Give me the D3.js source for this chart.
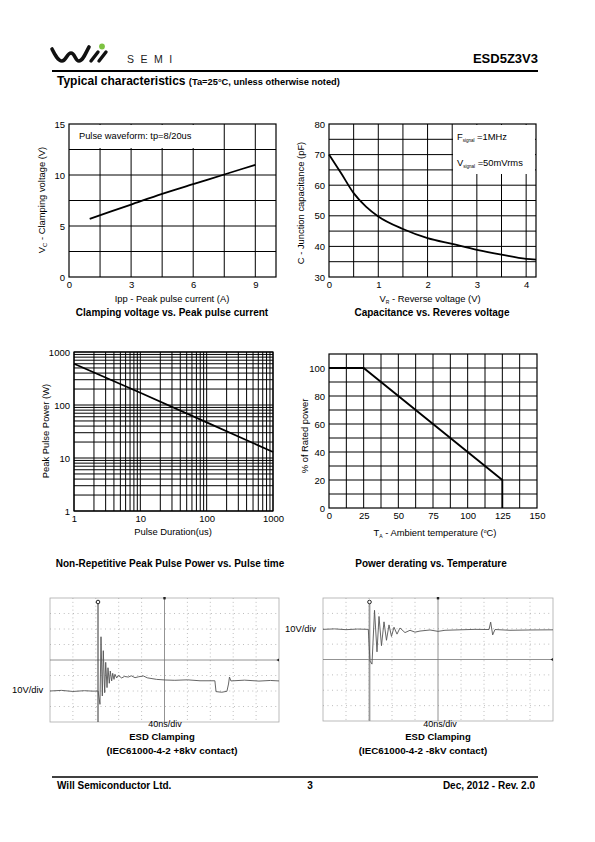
<!DOCTYPE html>
<html><head><meta charset="utf-8">
<script src="https://cdn.jsdelivr.net/npm/d3@7"></script>
<style>body{margin:0;background:#fff}svg{display:block}text{font-family:"Liberation Sans",Arial,sans-serif}</style>
</head><body>
<svg id="page" width="595" height="842"></svg>
<script>
// ---------- DATA ----------
const clampIpp = [1, 3, 4.5, 6, 7.5, 9];
const clampVc = [5.7, 7.1, 8.15, 9.1, 10.05, 11.0];
const clampXTicks = [0, 3, 6, 9];
const clampYTicks = [0, 5, 10, 15];

const capVr = [0, 0.25, 0.5, 0.75, 1, 1.5, 2, 2.5, 3, 3.5, 4, 4.2];
const capC = [70, 63.8, 57.4, 53, 49.8, 45.7, 42.7, 40.8, 38.9, 37.3, 35.9, 35.7];
const capXTicks = [0, 1, 2, 3, 4];
const capYTicks = [30, 40, 50, 60, 70, 80];

const pulseUs = [1, 10, 100, 1000];
const pulseW = [600, 170, 47, 13];
const pulseTicks = [1, 10, 100, 1000];

const derTemp = [0, 25, 125, 125];
const derPct = [100, 100, 20, 0];
const derXTicks = [0, 25, 50, 75, 100, 125, 150];
const derYTicks = [0, 20, 40, 60, 80, 100];

// scope traces: time (ns from left edge, 40ns/div) and voltage (V from centre, 10V/div)
const scope1T = [0, 20, 40, 60, 75, 84, 87.3, 89.1, 91.4, 93.1, 95.5, 97.3, 99.6, 101.3, 103.6, 105.3, 107.7, 109.5, 111.8, 113.5, 116.5, 119.3, 125.2, 130, 136.8, 142, 148.5, 155, 163, 170, 174.7, 186.3, 201, 218, 240, 262, 288, 290, 300, 309, 311.8, 313.5, 316, 340, 365, 385, 400];
const scope1V = [-20, -19.6, -20.3, -19.8, -20.1, -20, -28.6, 15, -23.2, 6, -21.1, -1.5, -17.8, -5.0, -15.0, -7.1, -13.5, -8.6, -12.5, -9.2, -11.6, -9.9, -11.6, -10.6, -11.0, -10.2, -11.4, -10.8, -10.3, -11.5, -11.8, -12.5, -12.9, -13.1, -12.8, -13.4, -13.4, -20.4, -20.8, -20.2, -15.5, -11, -13.5, -13.0, -13.6, -13.2, -13.5];
const scope2T = [0, 20, 40, 60, 78.8, 81.7, 85.2, 89.6, 93.9, 97.4, 101.7, 106.1, 110.4, 114.8, 119.1, 123.5, 128.7, 133.9, 142.6, 151.3, 160, 168.7, 186.1, 200, 212.2, 238.2, 264.3, 288.7, 291.6, 295.1, 299.1, 325.2, 360, 400];
const scope2V = [19.6, 19.9, 19.4, 19.8, 19.6, -1, -3, 32, 5, 28, 9, 24.5, 12.5, 22.5, 15, 21, 16.5, 20.5, 17.5, 19, 17.8, 18.5, 19.2, 18.3, 19, 19.3, 19.6, 19.5, 24.3, 16, 19.5, 19, 19.2, 19.3];

// ---------- DRAW ----------
const svg = d3.select("#page");
const F = '"Liberation Sans",Arial,sans-serif';

function txt(x, y, s, opt = {}) {
  return svg.append("text").attr("x", x).attr("y", y).text(s)
    .attr("font-size", opt.size || 9).attr("font-weight", opt.bold ? "bold" : null)
    .attr("text-anchor", opt.anchor || "start").attr("fill", "#000");
}

// header
const logo = svg.append("g");
logo.append("path").attr("d", "M52,49 C55,55 58,61 62,61 C66,61 67,53 71,53 C75,53 75,61 79,61 C83,61 86,52 89,47")
  .attr("fill", "none").attr("stroke", "#111").attr("stroke-width", 3.6).attr("stroke-linecap", "round");
logo.append("path").attr("d", "M91,61 L98,52 M99,61 L106,52").attr("stroke", "#111").attr("stroke-width", 3.4).attr("stroke-linecap", "round");
logo.append("circle").attr("cx", 102).attr("cy", 46.5).attr("r", 2.9).attr("fill", "#7dc242");
txt(127, 63, "SEMI", { size: 10.5 }).attr("letter-spacing", 6.5).attr("font-family", "DejaVu Sans").attr("fill", "#222");
txt(538, 63, "ESD5Z3V3", { size: 13, bold: true, anchor: "end" });
svg.append("line").attr("x1", 52).attr("x2", 538).attr("y1", 71).attr("y2", 71).attr("stroke", "#000").attr("stroke-width", 2);
const sub = txt(57, 85, "Typical characteristics ", { size: 12, bold: true });
sub.append("tspan").attr("font-size", 9.3).text("(Ta=25°C, unless otherwise noted)");

// footer
svg.append("line").attr("x1", 52).attr("x2", 538).attr("y1", 777).attr("y2", 777).attr("stroke", "#000").attr("stroke-width", 1.5);
txt(57, 789, "Will Semiconductor Ltd.", { size: 10, bold: true });
txt(310, 789, "3", { size: 10, bold: true, anchor: "middle" });
txt(535, 789, "Dec, 2012 - Rev. 2.0", { size: 10, bold: true, anchor: "end" });

function styleAxis(g) {
  g.select(".domain").remove();
  g.selectAll("text").attr("font-size", 9.5).attr("font-family", F).attr("fill", "#000");
}

function linChart(o) {
  const x = d3.scaleLinear(o.xDom, [o.L, o.R]);
  const y = d3.scaleLinear(o.yDom, [o.B, o.T]);
  const g = svg.append("g");
  g.selectAll(".vg").data(o.xGrid).join("line").attr("x1", d => x(d)).attr("x2", d => x(d))
    .attr("y1", o.T).attr("y2", o.B).attr("stroke", "#000").attr("stroke-width", 1);
  g.selectAll(".hg").data(o.yGrid).join("line").attr("y1", d => y(d)).attr("y2", d => y(d))
    .attr("x1", o.L).attr("x2", o.R).attr("stroke", "#000").attr("stroke-width", 1);
  g.append("rect").attr("x", o.L).attr("y", o.T).attr("width", o.R - o.L).attr("height", o.B - o.T)
    .attr("fill", "none").attr("stroke", "#000").attr("stroke-width", 1.2);
  g.append("g").attr("transform", `translate(0,${o.B})`)
    .call(d3.axisBottom(x).tickValues(o.xTicks).tickSize(0).tickPadding(4).tickFormat(d3.format("d"))).call(styleAxis);
  g.append("g").attr("transform", `translate(${o.L},0)`)
    .call(d3.axisLeft(y).tickValues(o.yTicks).tickSize(0).tickPadding(4).tickFormat(d3.format("d"))).call(styleAxis);
  return { x, y, g };
}

// Chart 1
{
  const c = linChart({ L: 69, R: 276, T: 124, B: 277, xDom: [0, 10], yDom: [0, 15],
    xGrid: d3.range(1.5, 10, 1.5), yGrid: d3.range(2.5, 15, 2.5), xTicks: clampXTicks, yTicks: clampYTicks });
  c.g.append("rect").attr("x", 70).attr("y", 125).attr("width", 128).attr("height", 23).attr("fill", "#fff");
  txt(79, 139, "Pulse waveform: tp=8/20us", { size: 9.3 });
  c.g.append("path").datum(clampIpp.map((d, i) => [d, clampVc[i]]))
    .attr("d", d3.line().x(d => c.x(d[0])).y(d => c.y(d[1])).curve(d3.curveMonotoneX))
    .attr("fill", "none").attr("stroke", "#000").attr("stroke-width", 1.8);
  const yl = txt(0, 0, "V", { size: 9.4, anchor: "middle" }).attr("transform", "translate(45,200) rotate(-90)");
  yl.append("tspan").attr("font-size", 6).attr("dy", 2).text("C");
  yl.append("tspan").attr("dy", -2).text(" - Clamping voltage (V)");
  txt(172, 302, "Ipp - Peak pulse current (A)", { size: 9.4, anchor: "middle" });
  txt(172, 316, "Clamping voltage vs. Peak pulse current", { size: 10, bold: true, anchor: "middle" });
}

// Chart 2
{
  const c = linChart({ L: 329, R: 536, T: 124, B: 277, xDom: [0, 4.2], yDom: [30, 80],
    xGrid: d3.range(0.5, 4.2, 0.5), yGrid: d3.range(35, 80, 5), xTicks: capXTicks, yTicks: capYTicks });
  c.g.append("rect").attr("x", 453).attr("y", 125).attr("width", 82).attr("height", 49).attr("fill", "#fff");
  const f1 = txt(457, 140, "F", { size: 9.4 });
  f1.append("tspan").attr("font-size", 4.5).attr("dy", 2).text("signal");
  f1.append("tspan").attr("dy", -2).text(" =1MHz");
  const f2 = txt(457, 166, "V", { size: 9.4 });
  f2.append("tspan").attr("font-size", 4.5).attr("dy", 2).text("signal");
  f2.append("tspan").attr("dy", -2).text(" =50mVrms");
  c.g.append("path").datum(capVr.map((d, i) => [d, capC[i]]))
    .attr("d", d3.line().x(d => c.x(d[0])).y(d => c.y(d[1])).curve(d3.curveMonotoneX))
    .attr("fill", "none").attr("stroke", "#000").attr("stroke-width", 1.8);
  txt(0, 0, "C - Junction capacitance (pF)", { size: 9.4, anchor: "middle" }).attr("transform", "translate(304,203) rotate(-90)");
  const xl = txt(430, 302, "V", { size: 9.4, anchor: "middle" });
  xl.append("tspan").attr("font-size", 5).attr("dy", 2).text("R");
  xl.append("tspan").attr("dy", -2).text(" - Reverse voltage (V)");
  txt(432, 316, "Capacitance vs. Reveres voltage", { size: 10, bold: true, anchor: "middle" });
}

// Chart 3 (log-log)
{
  const L = 74, R = 273, T = 352, B = 511;
  const x = d3.scaleLog([1, 1000], [L, R]);
  const y = d3.scaleLog([1, 1000], [B, T]);
  const minor = [];
  [1, 10, 100].forEach(dec => [1, 2, 3, 4, 5, 6, 7, 8, 9].forEach(m => minor.push(dec * m)));
  minor.push(1000);
  const g = svg.append("g");
  g.selectAll(".vg").data(minor).join("line").attr("x1", d => x(d)).attr("x2", d => x(d))
    .attr("y1", T).attr("y2", B).attr("stroke", "#000").attr("stroke-width", 1);
  g.selectAll(".hg").data(minor).join("line").attr("y1", d => y(d)).attr("y2", d => y(d))
    .attr("x1", L).attr("x2", R).attr("stroke", "#000").attr("stroke-width", 1);
  g.append("rect").attr("x", L).attr("y", T).attr("width", R - L).attr("height", B - T)
    .attr("fill", "none").attr("stroke", "#000").attr("stroke-width", 1.2);
  g.append("g").attr("transform", `translate(0,${B})`)
    .call(d3.axisBottom(x).tickValues(pulseTicks).tickSize(0).tickPadding(4).tickFormat(d3.format("d"))).call(styleAxis);
  g.append("g").attr("transform", `translate(${L},0)`)
    .call(d3.axisLeft(y).tickValues(pulseTicks).tickSize(0).tickPadding(4).tickFormat(d3.format("d"))).call(styleAxis);
  g.append("path").datum(pulseUs.map((d, i) => [d, pulseW[i]]))
    .attr("d", d3.line().x(d => x(d[0])).y(d => y(d[1])))
    .attr("fill", "none").attr("stroke", "#000").attr("stroke-width", 1.8);
  txt(0, 0, "Peak Pulse Power (W)", { size: 9.4, anchor: "middle" }).attr("transform", "translate(49,431) rotate(-90)");
  txt(173, 535, "Pulse Duration(us)", { size: 9.4, anchor: "middle" });
  txt(170, 567, "Non-Repetitive Peak Pulse Power vs. Pulse time", { size: 10, bold: true, anchor: "middle" });
}

// Chart 4
{
  const c = linChart({ L: 329, R: 537, T: 354, B: 508, xDom: [0, 150], yDom: [0, 110],
    xGrid: d3.range(12.5, 150, 12.5), yGrid: d3.range(10, 110, 10), xTicks: derXTicks, yTicks: derYTicks });
  c.g.append("path").datum(derTemp.map((d, i) => [d, derPct[i]]))
    .attr("d", d3.line().x(d => c.x(d[0])).y(d => c.y(d[1])))
    .attr("fill", "none").attr("stroke", "#000").attr("stroke-width", 1.8);
  txt(0, 0, "% of Rated power", { size: 9.4, anchor: "middle" }).attr("transform", "translate(308,436) rotate(-90)");
  const xl = txt(435, 536, "T", { size: 9.4, anchor: "middle" });
  xl.append("tspan").attr("font-size", 5).attr("dy", 2).text("A");
  xl.append("tspan").attr("dy", -2).text(" - Ambient temperature (");
  xl.append("tspan").attr("font-size", 5).attr("dy", -3).text("o");
  xl.append("tspan").attr("dy", 3).text("C)");
  txt(431, 567, "Power derating vs. Temperature", { size: 10, bold: true, anchor: "middle" });
}

// Scopes
function scope(o, T, V) {
  const x = d3.scaleLinear([0, 400], [o.L, o.R]);
  const y = d3.scaleLinear([-40, 40], [o.B, o.T]);
  const g = svg.append("g");
  g.append("rect").attr("x", o.L).attr("y", o.T).attr("width", o.R - o.L).attr("height", o.B - o.T)
    .attr("fill", "#fff").attr("stroke", "#aaa").attr("stroke-width", 0.8);
  const divX = d3.range(40, 400, 40).filter(d => d !== 200);
  const divY = d3.range(-30, 40, 10).filter(d => d !== 0);
  g.selectAll(".dv").data(divX).join("line").attr("x1", d => x(d)).attr("x2", d => x(d)).attr("y1", o.T).attr("y2", o.B)
    .attr("stroke", "#999").attr("stroke-width", 0.8).attr("stroke-dasharray", "0.8,3.1");
  g.selectAll(".dh").data(divY).join("line").attr("y1", d => y(d)).attr("y2", d => y(d)).attr("x1", o.L).attr("x2", o.R)
    .attr("stroke", "#999").attr("stroke-width", 0.8).attr("stroke-dasharray", "0.8,3.8");
  g.append("line").attr("x1", x(200)).attr("x2", x(200)).attr("y1", o.T).attr("y2", o.B).attr("stroke", "#777").attr("stroke-width", 0.8);
  g.append("line").attr("y1", y(0)).attr("y2", y(0)).attr("x1", o.L).attr("x2", o.R).attr("stroke", "#777").attr("stroke-width", 0.8);
  g.append("rect").attr("x", x(200) - 1.2).attr("y", o.T - 1).attr("width", 2.4).attr("height", 2.4).attr("fill", "#222");
  g.append("path").attr("d", `M${o.R},${y(0) - 1.5} L${o.R - 2.5},${y(0)} L${o.R},${y(0) + 1.5}Z`).attr("fill", "#222");
  g.append("line").attr("x1", o.trig).attr("x2", o.trig).attr("y1", o.T + 4).attr("y2", o.B)
    .attr("stroke", o.trigColor).attr("stroke-width", o.trigW);
  g.append("circle").attr("cx", o.trig).attr("cy", o.T + 4).attr("r", 1.8).attr("fill", "#fff").attr("stroke", "#222").attr("stroke-width", 1);
  g.append("path").datum(T.map((d, i) => [d, V[i]]))
    .attr("d", d3.line().x(d => x(d[0])).y(d => y(d[1])))
    .attr("fill", "none").attr("stroke", "#555").attr("stroke-width", 0.9);
}
scope({ L: 50, R: 279, T: 598, B: 722, trig: 98, trigColor: "#333", trigW: 1 }, scope1T, scope1V);
scope({ L: 323, R: 553, T: 598, B: 721, trig: 369.5, trigColor: "#999", trigW: 1.8 }, scope2T, scope2V);
txt(12, 693, "10V/div", { size: 9.4 });
txt(285, 632, "10V/div", { size: 9.4 });
txt(165, 727, "40ns/div", { size: 9, anchor: "middle" });
txt(440, 727, "40ns/div", { size: 9, anchor: "middle" });
txt(162, 740, "ESD Clamping", { size: 9.5, bold: true, anchor: "middle" });
txt(438, 740, "ESD Clamping", { size: 9.5, bold: true, anchor: "middle" });
txt(172, 754, "(IEC61000-4-2 +8kV contact)", { size: 9.8, bold: true, anchor: "middle" });
txt(423, 754, "(IEC61000-4-2 -8kV contact)", { size: 9.8, bold: true, anchor: "middle" });
</script>
</body></html>
